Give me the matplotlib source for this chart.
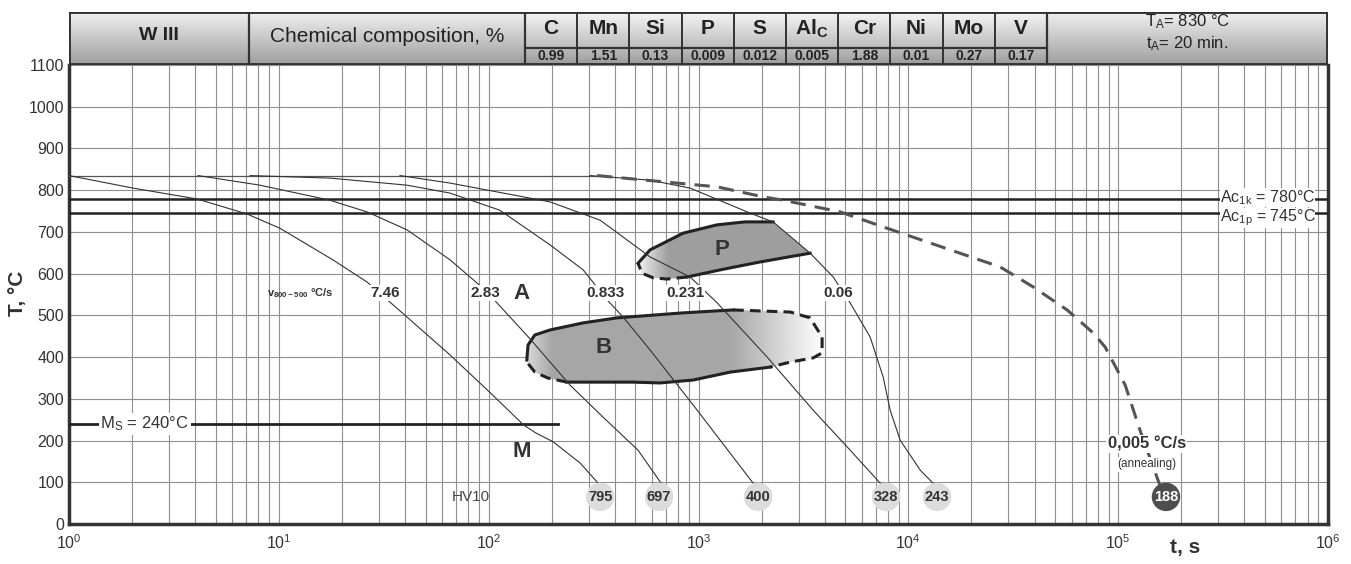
import numpy as np
import matplotlib.pyplot as plt
from matplotlib.patches import Polygon

plt.rcParams['font.family'] = ['Liberation Sans', 'DejaVu Sans']
plt.rcParams['mathtext.default'] = 'regular'

# header table
steel = 'W III'
elements = ['C', 'Mn', 'Si', 'P', 'S', 'Al$_C$', 'Cr', 'Ni', 'Mo', 'V']
contents = ['0.99', '1.51', '0.13', '0.009', '0.012', '0.005', '1.88', '0.01', '0.27', '0.17']
austenitizing = ['T$_A$= 830 °C', 't$_A$= 20 min.']

# cooling curves (time in s, temperature in C)
rates = ['7.46', '2.83', '0.833', '0.231', '0.06']
curve_t = [
    [1, 2.02, 4.07, 7.05, 10.1, 18.1, 26.3, 40.8, 65.5, 102, 147, 168, 203, 273, 332],
    [4.12, 8.13, 17.5, 26.3, 40.8, 65.5, 96.1, 156, 244, 351, 515, 663],
    [7.29, 17.5, 40.8, 65.5, 113, 196, 282, 367, 437, 588, 985, 1268, 1820],
    [37.8, 65.5, 196, 340, 588, 912, 1227, 2124, 3516, 5280, 7340],
    [304, 588, 912, 1762, 2268, 3404, 4385, 5280, 6577, 7590, 8190, 9140, 11400, 13400],
]
curve_T = [
    [835, 805, 779, 743, 709, 633, 580, 496, 405, 314, 237, 218, 197, 146, 98],
    [835, 812, 776, 748, 705, 633, 561, 446, 333, 256, 177, 98],
    [835, 829, 812, 793, 752, 669, 609, 537, 496, 417, 273, 201, 98],
    [835, 817, 772, 728, 640, 592, 530, 400, 273, 177, 98],
    [835, 824, 805, 745, 724, 649, 592, 530, 448, 352, 273, 201, 129, 93],
]
rate_label_t = [32, 96, 359, 863, 4630]
hardness = ['795', '697', '400', '328', '243']
hardness_t = [340, 649, 1923, 7840, 13700]

# annealing curve
anneal_t = [329, 1227, 2032, 2530, 4730, 7590, 27400, 39400, 57100, 76000, 86700,
            108000, 127000, 158000]
anneal_T = [835, 808, 784, 776, 748, 712, 616, 568, 513, 458, 424, 333, 225, 93]
anneal_hv = '188'
anneal_hv_t = 169000

# critical temperatures
T_A = 835
Ac1k = 780
Ac1p = 745
Ms = 240

# bainite region: solid top, dashed right, solid bottom, dashed left
b_top_t = [152, 154, 166, 196, 282, 409, 845, 1462]
b_top_T = [393, 429, 453, 465, 482, 494, 506, 513]
b_right_t = [1462, 2733, 3404, 3882, 3882, 3516, 2733, 2195]
b_right_T = [513, 508, 494, 448, 410, 398, 388, 376]
b_bot_t = [2195, 1416, 942, 656, 488, 340, 236]
b_bot_T = [376, 364, 345, 338, 340, 340, 340]
b_left_t = [236, 191, 166, 156, 152]
b_left_T = [340, 350, 364, 381, 393]

# pearlite region: solid top, open right, solid bottom, dashed left
p_top_t = [515, 588, 845, 1227, 1667, 2268]
p_top_T = [625, 657, 697, 717, 724, 724]
p_bot_t = [3404, 1967, 1268, 883]
p_bot_T = [649, 628, 609, 592]
p_left_t = [883, 708, 608, 538, 515]
p_left_T = [592, 587, 590, 601, 625]

fig = plt.figure(figsize=(13.51, 5.64), dpi=100)
W, H = 1351, 564
x0, x1, ytop, ybot = 69, 1328, 65, 524
ax = fig.add_axes([x0 / W, 1 - ybot / H, (x1 - x0) / W, (ybot - ytop) / H])
ax.set_xscale('log')
ax.set_xlim(1, 1e6)
ax.set_ylim(0, 1100)
ax.set_autoscale_on(False)
ax.set_yticks(np.arange(0, 1101, 100))
ax.grid(which='both', axis='x', color='#8f8f8f', lw=0.8)
ax.grid(which='major', axis='y', color='#8f8f8f', lw=0.8)
ax.set_axisbelow(True)
ax.tick_params(which='both', length=0, labelsize=11.5, labelcolor='#333333')
ax.tick_params(axis='x', pad=7)
for side in ['left', 'bottom', 'right']:
    ax.spines[side].set_linewidth(2.5)
    ax.spines[side].set_color('#333333')
ax.spines['top'].set_visible(False)

wbox = dict(facecolor='white', edgecolor='none', pad=1)


def fade(patch, t0, t1, a0, a1):
    # white overlay whose opacity ramps from a0 at t0 to a1 at t1
    f0, f1 = np.log10(t0) / 6, np.log10(t1) / 6
    img = np.ones((1, 256, 4))
    img[0, :, 3] = np.linspace(a0, a1, 256)
    im = ax.imshow(img, extent=(f0, f1, 0, 1), transform=ax.transAxes,
                   aspect='auto', zorder=2.5, interpolation='bilinear')
    im.set_clip_path(patch)


# bainite
bx = b_top_t + b_right_t + b_bot_t + b_left_t
by = b_top_T + b_right_T + b_bot_T + b_left_T
bpatch = Polygon(np.column_stack([bx, by]), closed=True, facecolor='#a6a6a6',
                 edgecolor='none', zorder=2)
ax.add_patch(bpatch)
fade(bpatch, 1400, 3900, 0, 1)
fade(bpatch, 150, 200, 0.6, 0)
ax.plot(b_top_t, b_top_T, color='#222222', lw=2.2, zorder=3)
ax.plot(b_bot_t, b_bot_T, color='#222222', lw=2.2, zorder=3)
ax.plot(b_right_t, b_right_T, color='#222222', lw=2.2, ls=(0, (3.5, 2)), zorder=3)
ax.plot(b_left_t, b_left_T, color='#222222', lw=2.2, ls=(0, (3.5, 2)), zorder=3)

# pearlite
px_ = p_top_t + p_bot_t + p_left_t
py_ = p_top_T + p_bot_T + p_left_T
ppatch = Polygon(np.column_stack([px_, py_]), closed=True, facecolor='#9e9e9e',
                 edgecolor='none', zorder=2)
ax.add_patch(ppatch)
fade(ppatch, 510, 720, 0.9, 0)
ax.plot(p_top_t, p_top_T, color='#222222', lw=2.2, zorder=3)
ax.plot(p_bot_t, p_bot_T, color='#222222', lw=2.2, zorder=3)
ax.plot(p_left_t, p_left_T, color='#222222', lw=2.2, ls=(0, (3.5, 2)), zorder=3)

# critical lines
ax.plot([1, anneal_t[0]], [T_A, T_A], color='#555555', lw=0.9, zorder=3)
ax.axhline(Ac1k, color='#222222', lw=1.8, zorder=3)
ax.axhline(Ac1p, color='#222222', lw=1.8, zorder=3)
ax.text(0.990, Ac1k + 3, 'Ac$_{1k}$ = 780°C', transform=ax.get_yaxis_transform(),
        ha='right', va='center', fontsize=11.5, color='#333333',
        bbox=dict(facecolor='white', edgecolor='none', pad=0), zorder=5)
ax.text(0.990, Ac1p - 12, 'Ac$_{1p}$ = 745°C', transform=ax.get_yaxis_transform(),
        ha='right', va='center', fontsize=11.5, color='#333333',
        bbox=dict(facecolor='white', edgecolor='none', pad=0), zorder=5)
ax.plot([1, 214], [Ms, Ms], color='#222222', lw=2, zorder=3)
ax.text(2.3, Ms, 'M$_S$ = 240°C', ha='center', va='center', fontsize=12,
        color='#333333', bbox=wbox, zorder=5)

# cooling curves
for t, T in zip(curve_t, curve_T):
    ax.plot(t, T, color='#333333', lw=0.8, zorder=3)
for lab, t in zip(rates, rate_label_t):
    ax.text(t, 553, lab, ha='center', va='center', fontsize=11, fontweight='bold',
            color='#333333', bbox=dict(facecolor='white', edgecolor='none', pad=0.5), zorder=5)
ax.plot(anneal_t, anneal_T, color='#555555', lw=2.2, ls=(0, (5, 3)), zorder=3)

ax.text(12.6, 553, 'v$_{800-500}$ °C/s', ha='center', va='center', fontsize=8,
        fontweight='bold', color='#333333', zorder=5)
ax.text(144, 553, 'A', ha='center', va='center', fontsize=16, fontweight='bold', color='#333333')
ax.text(351, 422, 'B', ha='center', va='center', fontsize=16, fontweight='bold', color='#333333', zorder=5)
ax.text(1295, 657, 'P', ha='center', va='center', fontsize=16, fontweight='bold', color='#333333', zorder=5)
ax.text(144, 173, 'M', ha='center', va='center', fontsize=16, fontweight='bold', color='#333333')
ax.text(82.5, 65, 'HV10', ha='center', va='center', fontsize=11, color='#444444')

# hardness markers
ax.scatter(hardness_t, [65] * len(hardness_t), s=420, color='#dcdcdc', edgecolors='none', zorder=4)
for lab, t in zip(hardness, hardness_t):
    ax.text(t, 65, lab, ha='center', va='center', fontsize=10.5, fontweight='bold',
            color='#333333', zorder=5)
ax.scatter([anneal_hv_t], [65], s=420, color='#4d4d4d', edgecolors='none', zorder=4)
ax.text(anneal_hv_t, 65, anneal_hv, ha='center', va='center', fontsize=10.5,
        fontweight='bold', color='white', zorder=5)
ax.text(137000, 192, '0,005 °C/s', ha='center', va='center', fontsize=12,
        fontweight='bold', color='#333333', bbox=wbox, zorder=5)
ax.text(137000, 143, '(annealing)', ha='center', va='center', fontsize=8.5,
        color='#333333', bbox=wbox, zorder=5)

fig.text(18 / W, 1 - 293 / H, 'T, °C', rotation=90, ha='center', va='center',
         fontsize=15, fontweight='bold', color='#333333')
fig.text(1185 / W, 1 - 548 / H, 't, s', ha='center', va='center',
         fontsize=15, fontweight='bold', color='#333333')

# header table, in pixel units
htop = 12
hmid = 48
hax = fig.add_axes([x0 / W, 1 - ytop / H, (x1 - x0) / W, (ytop - htop) / H])
hax.set_xlim(x0, x1)
hax.set_ylim(ytop, htop)
hax.axis('off')


def grad(a, b, n=64):
    g = np.linspace(a, b, n)[:, None, None]
    return np.repeat(g, 3, axis=2)


c1, c2 = 249, 525
cw = 52.2
c3 = c2 + cw * len(elements)
hax.imshow(grad(0.94, 0.62), extent=(x0, c2, ytop, htop), aspect='auto')
hax.imshow(grad(0.94, 0.62), extent=(c3, x1, ytop, htop), aspect='auto')
hax.imshow(grad(0.96, 0.74), extent=(c2, c3, hmid, htop), aspect='auto')
hax.imshow(grad(0.74, 0.60), extent=(c2, c3, ytop, hmid), aspect='auto')

lc = '#333333'
hax.plot([x0, x1, x1, x0, x0], [htop, htop, ytop, ytop, htop], color=lc, lw=2.8)
for xb in [c1, c2, c3]:
    hax.plot([xb, xb], [htop, ytop], color=lc, lw=1.6)
for i in range(1, len(elements)):
    xb = c2 + cw * i
    hax.plot([xb, xb], [htop, ytop], color=lc, lw=1.4)
hax.plot([c2, c3], [hmid, hmid], color=lc, lw=1.6)

hax.text((x0 + c1) / 2, 36, steel, ha='center', va='center', fontsize=14,
         fontweight='bold', color='#222222')
hax.text((c1 + c2) / 2, 36, 'Chemical composition, %', ha='center', va='center',
         fontsize=15, color='#222222')
for i, (el, v) in enumerate(zip(elements, contents)):
    xc = c2 + cw * (i + 0.5)
    hax.text(xc, 29, el, ha='center', va='center', fontsize=15, fontweight='bold', color='#222222')
    hax.text(xc, 56.5, v, ha='center', va='center', fontsize=10, fontweight='bold', color='#222222')
hax.text((c3 + x1) / 2, 22, austenitizing[0], ha='center', va='center', fontsize=12, color='#222222')
hax.text((c3 + x1) / 2, 44, austenitizing[1], ha='center', va='center', fontsize=12, color='#222222')

fig.savefig('out.png', dpi=100)
